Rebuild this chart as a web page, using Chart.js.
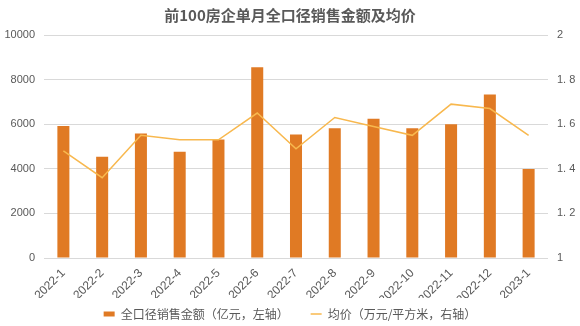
<!DOCTYPE html>
<html>
<head>
<meta charset="utf-8">
<script src="https://cdn.jsdelivr.net/npm/chart.js@4/dist/chart.umd.min.js"></script>
<style>
  html, body { margin: 0; padding: 0; background: #fff; }
  #wrap { width: 580px; height: 326px; }
</style>
</head>
<body>
<div id="wrap"><canvas id="c" width="580" height="326"></canvas></div>
<script>
// Monthly categories
const months = ['2022-1','2022-2','2022-3','2022-4','2022-5','2022-6','2022-7','2022-8','2022-9','2022-10','2022-11','2022-12','2023-1'];
// Total sales amount, 100 million yuan (left axis)
const salesAmount = [5920, 4540, 5580, 4770, 5310, 8550, 5540, 5820, 6250, 5820, 6000, 7330, 3990];
// Average price, 10k yuan per square metre (right axis)
const avgPrice = [1.48, 1.36, 1.55, 1.53, 1.53, 1.65, 1.49, 1.63, 1.59, 1.55, 1.69, 1.67, 1.55];
// Axis ticks
const leftTicks = [0, 2000, 4000, 6000, 8000, 10000];
const rightTicks = [1, 1.2, 1.4, 1.6, 1.8, 2];

const FONT = "'Liberation Sans', 'Noto Sans CJK SC', sans-serif";
const CJK = "'Noto Sans CJK SC', sans-serif";
const TEXT = '#595959';
const GRID = '#d9d9d9';
const BAR = '#e07a24';
const LINE = '#f8b84e';

// Keep the legend strip compact at the bottom edge
const compactLegend = {
  id: 'compactLegend',
  afterInit(chart) {
    const lg = chart.legend;
    if (!lg) return;
    const fit = lg.fit.bind(lg);
    lg.fit = function () { fit(); this.height = 28; };
  }
};

new Chart(document.getElementById('c'), {
  data: {
    labels: months,
    datasets: [
      {
        type: 'bar',
        label: '全口径销售金额（亿元，左轴）',
        data: salesAmount,
        yAxisID: 'yL',
        backgroundColor: BAR,
        categoryPercentage: 1,
        barPercentage: 0.31,
        order: 1
      },
      {
        type: 'line',
        label: '均价（万元/平方米，右轴）',
        data: avgPrice,
        yAxisID: 'yR',
        borderColor: LINE,
        backgroundColor: LINE,
        borderWidth: 1.5,
        pointRadius: 0,
        tension: 0,
        order: 0
      }
    ]
  },
  plugins: [compactLegend],
  options: {
    responsive: false,
    animation: false,
    layout: { padding: 0 },
    plugins: {
      title: {
        display: true,
        text: '前100房企单月全口径销售金额及均价',
        color: TEXT,
        font: { family: CJK, size: 15, weight: 'bold' },
        padding: { top: 6, bottom: 11 }
      },
      legend: {
        position: 'bottom',
        labels: {
          color: TEXT,
          font: { family: CJK, size: 12 },
          usePointStyle: true,
          pointStyleWidth: 11,
          boxHeight: 5,
          padding: 10,
          generateLabels(chart) {
            return chart.data.datasets.map((ds, i) => {
              const isBar = ds.type === 'bar';
              const col = isBar ? ds.backgroundColor : ds.borderColor;
              return {
                // extra spacing after the first entry
                text: isBar ? ds.label + '\u3000\u2002' : ds.label,
                fillStyle: col,
                strokeStyle: col,
                lineWidth: isBar ? 0 : 1.5,
                pointStyle: isBar ? 'rect' : 'line',
                fontColor: TEXT,
                datasetIndex: i,
                hidden: false
              };
            });
          }
        }
      },
      tooltip: { enabled: false }
    },
    scales: {
      x: {
        afterFit(scale) { scale.height = 40; },
        grid: { display: false, drawTicks: false },
        border: { display: false },
        ticks: {
          color: TEXT,
          font: { family: FONT, size: 12 },
          maxRotation: 45,
          minRotation: 45,
          autoSkip: false,
          padding: 8
        }
      },
      yL: {
        position: 'left',
        min: 0,
        max: 10000,
        afterFit(scale) { scale.width = 44; },
        afterBuildTicks(axis) { axis.ticks = leftTicks.map(v => ({ value: v })); },
        grid: { color: GRID, drawTicks: false },
        border: { display: false },
        ticks: {
          color: TEXT,
          font: { family: FONT, size: 11 },
          padding: 9,
          callback(v) { return String(v); }
        }
      },
      yR: {
        position: 'right',
        min: 1,
        max: 2,
        afterFit(scale) { scale.width = 32; },
        afterBuildTicks(axis) { axis.ticks = rightTicks.map(v => ({ value: v })); },
        grid: { display: false, drawTicks: false },
        border: { display: false },
        ticks: {
          color: TEXT,
          font: { family: FONT, size: 11 },
          padding: 9,
          callback(v) { return Number.isInteger(v) ? String(v) : v.toFixed(1).replace('.', '. '); }
        }
      }
    }
  }
});
</script>
</body>
</html>
